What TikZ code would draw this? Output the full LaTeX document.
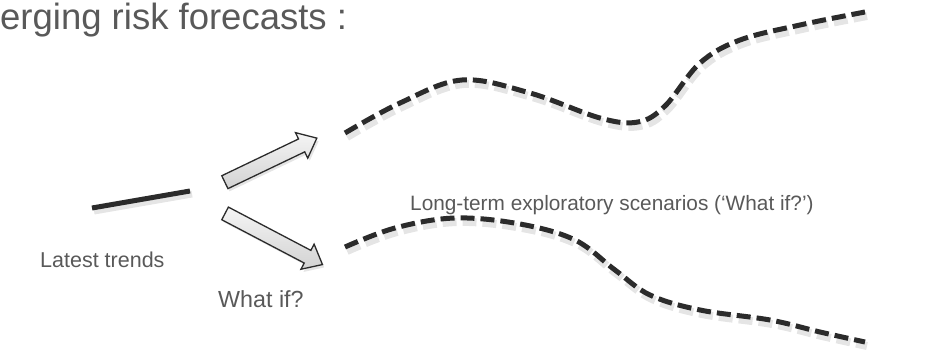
\documentclass[tikz,border=0pt]{standalone}
\usepackage{fontspec}
\setmainfont{Liberation Sans}
\usetikzlibrary{shapes.arrows}
\definecolor{txtgray}{HTML}{595959}
\definecolor{ink}{HTML}{2B2B2B}
\tikzset{
  label/.style={text=txtgray, inner sep=0pt, font=\fontsize{21.5}{24}\selectfont},
  dashcurve/.style={ink, line width=5pt, dash pattern=on 14pt off 6pt},
  dashshadow/.style={black, opacity=0.10, line width=8pt, dash pattern=on 14pt off 6pt},
  trendline/.style={ink, line width=5pt},
  blockarrow/.style={single arrow, draw=ink, line width=1.3pt,
    inner sep=6.5pt, single arrow head extend=7pt, single arrow tip angle=80,
    top color=gray!8, bottom color=gray!35},
  arrowshadow/.style={single arrow, fill=black, opacity=0.10,
    inner sep=6.5pt, single arrow head extend=7pt, single arrow tip angle=80}
}
\begin{document}
\begin{tikzpicture}[x=1pt,y=-1pt]
\useasboundingbox (0,0) rectangle (932,356);

% heading
\node[label, anchor=base west, font=\fontsize{36.5}{42}\selectfont] (title) at (0,29) {erging risk forecasts :};

% present trend
\coordinate (t1) at (92,208);
\coordinate (t2) at (190,191);
\draw[black, opacity=0.10, line width=7pt] ([shift={(2,3)}]t1) -- ([shift={(2,3)}]t2);
\draw[trendline] (t1) -- (t2);
\node[label, anchor=base west] (latest) at (40,267) {Latest trends};

% branching arrows
\node[arrowshadow, minimum height=102pt, rotate=25.6] at (269,165) {};
\node[blockarrow, minimum height=102pt, rotate=25.6] (up) at (267,162) {};
\node[arrowshadow, minimum height=110pt, rotate=-27.7] at (272,240) {};
\node[blockarrow, minimum height=110pt, rotate=-27.7] (down) at (270,237) {};
\node[label, anchor=base west, font=\fontsize{23.3}{26}\selectfont] (whatif) at (218,307) {What if?};

% exploratory scenarios
\draw[dashshadow, shift={(2,4)}] plot[smooth, tension=0.6] coordinates {
  (345,133) (400,103) (462,80) (530,93) (600,118) (638,122) (665,106)
  (700,63) (740,40) (800,25) (865,12)};
\draw[dashcurve] plot[smooth, tension=0.6] coordinates {
  (345,133) (400,103) (462,80) (530,93) (600,118) (638,122) (665,106)
  (700,63) (740,40) (800,25) (865,12)};

\draw[dashshadow, shift={(2,4)}] plot[smooth, tension=0.6] coordinates {
  (345,247) (395,228) (455,218) (520,224) (575,240) (615,270) (650,295)
  (700,310) (770,320) (820,332) (865,342)};
\draw[dashcurve] plot[smooth, tension=0.6] coordinates {
  (345,247) (395,228) (455,218) (520,224) (575,240) (615,270) (650,295)
  (700,310) (770,320) (820,332) (865,342)};

\node[label, anchor=base west, font=\fontsize{20.8}{24}\selectfont] (longterm) at (410,210) {Long-term exploratory scenarios (‘What if?’)};
\end{tikzpicture}
\end{document}
